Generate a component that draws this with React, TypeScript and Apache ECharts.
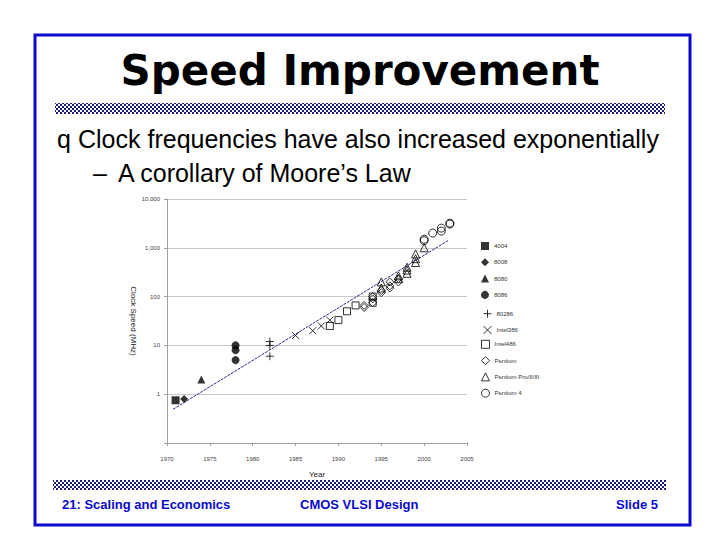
import React, { useEffect, useRef } from "react";
import * as echarts from "echarts";

// ---- data ----
const seriesNames = [
  "4004",
  "8008",
  "8080",
  "8086",
  "80286",
  "Intel386",
  "Intel486",
  "Pentium",
  "Pentium Pro/II/III",
  "Pentium 4",
];

const d4004 = [[1971, 0.75]];
const d8008 = [[1972, 0.8]];
const d8080 = [[1974, 2]];
const d8086 = [[1978, 5], [1978, 8], [1978, 10]];
const d80286 = [[1982, 6], [1982, 10], [1982, 12]];
const dIntel386 = [[1985, 16], [1987, 20], [1988, 25], [1989, 33]];
const dIntel486 = [[1989, 25], [1990, 33], [1991, 50], [1992, 66], [1994, 75], [1994, 100]];
const dPentium = [
  [1993, 60], [1993, 66], [1994, 75], [1994, 90], [1994, 100], [1995, 120],
  [1995, 133], [1996, 150], [1996, 166], [1996, 200], [1997, 200], [1997, 233],
];
const dPentiumPro = [
  [1995, 150], [1995, 200], [1997, 233], [1997, 266], [1998, 300], [1998, 350],
  [1998, 400], [1999, 500], [1999, 600], [1999, 750], [2000, 1000],
];
const dPentium4 = [[2000, 1400], [2000, 1500], [2001, 2000], [2002, 2200], [2002, 2530], [2003, 3060], [2003, 3200]];

const trendYears = [1970.7, 2002.8];
const trendValues = [0.49, 1410];

const xTicks = { min: 1970, max: 2005, step: 5 };
const yRange = { min: 0.1, max: 10000 };

const titleText = "Speed Improvement";
const bullet1 = "Clock frequencies have also increased exponentially";
const bullet2 = "A corollary of Moore\u2019s Law";
const footerLeft = "21: Scaling and Economics";
const footerMid = "CMOS VLSI Design";
const footerRight = "Slide 5";

const PLUS = "path://M5,0L5,10M0,5L10,5";
const CROSS = "path://M0,0L10,10M10,0L0,10";

export default function App() {
  const ref = useRef<HTMLDivElement>(null);

  useEffect(() => {
    if (!ref.current) return;
    const chart = echarts.init(ref.current, undefined, { renderer: "svg" });

    const cv = document.createElement("canvas");
    cv.width = 4;
    cv.height = 4;
    const ctx = cv.getContext("2d");
    if (ctx) {
      ctx.fillStyle = "#ffffff";
      ctx.fillRect(0, 0, 4, 4);
      ctx.fillStyle = "#1f1f78";
      ctx.fillRect(0, 0, 2, 2);
      ctx.fillRect(2, 2, 2, 2);
    }
    const hatch: any = { image: cv, repeat: "repeat" };

    const filled = { color: "#000", borderWidth: 0 };
    const hollow = { color: "transparent", borderColor: "#000", borderWidth: 1 };
    const stroked = { color: "none", borderColor: "#000", borderWidth: 1 };

    const scatterDefs: any[] = [
      { name: seriesNames[0], data: d4004, symbol: "rect", symbolSize: 8, itemStyle: filled },
      { name: seriesNames[1], data: d8008, symbol: "diamond", symbolSize: 8, itemStyle: filled },
      { name: seriesNames[2], data: d8080, symbol: "triangle", symbolSize: 8, itemStyle: filled },
      { name: seriesNames[3], data: d8086, symbol: "circle", symbolSize: 8, itemStyle: filled },
      { name: seriesNames[4], data: d80286, symbol: PLUS, symbolSize: 8, itemStyle: stroked },
      { name: seriesNames[5], data: dIntel386, symbol: CROSS, symbolSize: 7, itemStyle: stroked },
      { name: seriesNames[6], data: dIntel486, symbol: "rect", symbolSize: 7, itemStyle: hollow },
      { name: seriesNames[7], data: dPentium, symbol: "diamond", symbolSize: 8, itemStyle: hollow },
      { name: seriesNames[8], data: dPentiumPro, symbol: "triangle", symbolSize: 8, itemStyle: hollow },
      { name: seriesNames[9], data: dPentium4, symbol: "circle", symbolSize: 8, itemStyle: hollow },
    ];

    const series: any[] = scatterDefs.map((s) => ({
      type: "scatter",
      name: s.name,
      data: s.data,
      symbol: s.symbol,
      symbolSize: s.symbolSize,
      itemStyle: s.itemStyle,
      z: 3,
    }));

    series.push({
      type: "line",
      name: "trend",
      data: trendYears.map((y, i) => [y, trendValues[i]]),
      symbol: "none",
      lineStyle: { color: "#2c2c90", width: 1, type: [3, 1] },
      z: 2,
      silent: true,
    });

    const textBase = { fontFamily: "Liberation Sans, Arial, sans-serif" };

    const legends = scatterDefs.map((s, i) => ({
      data: [s.name],
      orient: "vertical",
      left: 481,
      top: 242 + i * 16.3,
      padding: 0,
      itemWidth: 8,
      itemHeight: 8,
      itemGap: 0,
      selectedMode: false,
      icon: s.symbol,
      itemStyle:
        s.itemStyle === filled
          ? { color: "#000", borderWidth: 0 }
          : { color: s.itemStyle.color, borderColor: "#000", borderWidth: 1 },
      textStyle: { fontSize: 6, color: "#333", fontFamily: textBase.fontFamily },
    }));

    chart.setOption({
      animation: false,
      backgroundColor: "#ffffff",
      grid: { left: 167, right: 253, top: 199, bottom: 97 },
      xAxis: {
        type: "value",
        min: xTicks.min,
        max: xTicks.max,
        interval: xTicks.step,
        name: "Year",
        nameLocation: "middle",
        nameGap: 27,
        nameTextStyle: { fontSize: 8, color: "#222", fontFamily: textBase.fontFamily },
        axisLine: { lineStyle: { color: "#a0a0a0" } },
        axisTick: { show: true, length: 3, lineStyle: { color: "#a0a0a0" } },
        axisLabel: {
          fontSize: 6,
          color: "#444",
          margin: 13,
          fontFamily: textBase.fontFamily,
          formatter: (v: number) => String(v),
        },
        splitLine: { show: false },
      },
      yAxis: {
        type: "log",
        logBase: 10,
        min: yRange.min,
        max: yRange.max,
        name: "Clock Speed (MHz)",
        nameLocation: "middle",
        nameGap: 30,
        nameRotate: 270,
        nameTextStyle: { fontSize: 8, color: "#222", fontFamily: textBase.fontFamily },
        axisLine: { show: true, lineStyle: { color: "#a0a0a0" } },
        axisTick: { show: true, length: 3, lineStyle: { color: "#a0a0a0" } },
        axisLabel: {
          fontSize: 6,
          color: "#444",
          margin: 7,
          fontFamily: textBase.fontFamily,
          formatter: (v: number) => (v < 1 ? "" : Math.round(v).toLocaleString("en-US")),
        },
        splitLine: { show: true, lineStyle: { color: "#c8c8c8", width: 1 } },
      },
      legend: legends,
      graphic: [
        {
          type: "rect",
          shape: { x: 35, y: 35, width: 655, height: 490 },
          style: { fill: "none", stroke: "#0a0acc", lineWidth: 3 },
          z: 10,
        },
        {
          type: "rect",
          shape: { x: 55, y: 103, width: 610, height: 11 },
          style: { fill: hatch },
        },
        {
          type: "rect",
          shape: { x: 53, y: 480, width: 613, height: 10 },
          style: { fill: hatch },
        },
        {
          type: "text",
          x: 360,
          y: 70,
          style: {
            text: titleText,
            fontFamily: "DejaVu Sans, sans-serif",
            fontWeight: "bold",
            fontSize: 42,
            fill: "#000",
            align: "center",
            verticalAlign: "middle",
          },
        },
        {
          type: "text",
          x: 57,
          y: 139,
          style: { text: "q", fontSize: 25, fill: "#000", verticalAlign: "middle", ...textBase },
        },
        {
          type: "text",
          x: 78,
          y: 139,
          style: { text: bullet1, fontSize: 25, fill: "#000", verticalAlign: "middle", ...textBase },
        },
        {
          type: "text",
          x: 93,
          y: 173,
          style: { text: "\u2013", fontSize: 25, fill: "#000", verticalAlign: "middle", ...textBase },
        },
        {
          type: "text",
          x: 118,
          y: 173,
          style: { text: bullet2, fontSize: 25, fill: "#000", verticalAlign: "middle", ...textBase },
        },
        {
          type: "text",
          x: 62,
          y: 504,
          style: { text: footerLeft, fontSize: 13, fontWeight: "bold", fill: "#0a0acc", verticalAlign: "middle", ...textBase },
        },
        {
          type: "text",
          x: 300,
          y: 504,
          style: { text: footerMid, fontSize: 13, fontWeight: "bold", fill: "#0a0acc", verticalAlign: "middle", ...textBase },
        },
        {
          type: "text",
          x: 658,
          y: 504,
          style: { text: footerRight, fontSize: 13, fontWeight: "bold", fill: "#0a0acc", align: "right", verticalAlign: "middle", ...textBase },
        },
      ],
      series,
    });

    return () => chart.dispose();
  }, []);

  return (
    <div
      ref={ref}
      style={{ position: "fixed", left: 0, top: 0, width: 720, height: 540, background: "#fff" }}
    />
  );
}
